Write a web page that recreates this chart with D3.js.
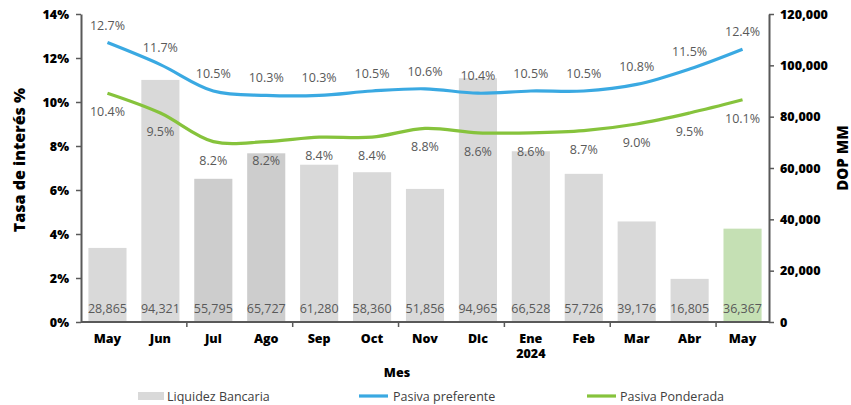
<!DOCTYPE html>
<html>
<head>
<meta charset="utf-8">
<script src="https://cdn.jsdelivr.net/npm/d3@7"></script>
<style>
  body { margin: 0; background: #fff; }
  svg text { font-family: "Open Sans", "Noto Sans", sans-serif; }
</style>
</head>
<body>
<script>
// Data
const months = ["May", "Jun", "Jul", "Ago", "Sep", "Oct", "Nov", "Dic", "Ene", "Feb", "Mar", "Abr", "May2"];
const monthLabels = ["May", "Jun", "Jul", "Ago", "Sep", "Oct", "Nov", "Dic", "Ene\n2024", "Feb", "Mar", "Abr", "May"];
const liquidez = [28865, 94321, 55795, 65727, 61280, 58360, 51856, 94965, 66528, 57726, 39176, 16805, 36367];
const pasivaPreferente = [12.7, 11.7, 10.5, 10.3, 10.3, 10.5, 10.6, 10.4, 10.5, 10.5, 10.8, 11.5, 12.4];
const pasivaPonderada = [10.4, 9.5, 8.2, 8.2, 8.4, 8.4, 8.8, 8.6, 8.6, 8.7, 9.0, 9.5, 10.1];
const leftTicks = [0, 2, 4, 6, 8, 10, 12, 14];
const rightTicks = [0, 20000, 40000, 60000, 80000, 100000, 120000];

const width = 851, height = 405;
const margin = {top: 14, right: 82, bottom: 83, left: 81};
const innerW = width - margin.left - margin.right;
const innerH = height - margin.top - margin.bottom;

const svg = d3.select("body").append("svg")
    .attr("width", width)
    .attr("height", height);

const g = svg.append("g")
    .attr("transform", "translate(" + margin.left + "," + margin.top + ")");

const x = d3.scaleBand().domain(months).range([0, innerW]).paddingInner(0.28).paddingOuter(0.14);
const yL = d3.scaleLinear().domain([0, 14]).range([innerH, 0]);
const yR = d3.scaleLinear().domain([0, 120000]).range([innerH, 0]);

const barColor = (d, i) => i === 12 ? "#c5e0b4" : (i === 2 || i === 3 ? "#cdcdcd" : "#d9d9d9");

// Bars
g.selectAll("rect.bar")
    .data(liquidez)
    .enter().append("rect")
    .attr("class", "bar")
    .attr("x", (d, i) => x(months[i]))
    .attr("width", x.bandwidth())
    .attr("y", d => yR(d))
    .attr("height", d => innerH - yR(d))
    .attr("fill", barColor);

g.selectAll("text.barlabel")
    .data(liquidez)
    .enter().append("text")
    .attr("class", "barlabel")
    .attr("x", (d, i) => x(months[i]) + x.bandwidth() / 2)
    .attr("y", innerH - 9)
    .attr("text-anchor", "middle")
    .attr("fill", "#595959")
    .style("font-size", "12.5px")
    .text(d => d3.format(",")(d));

// Lines (smoothed like the source)
const line = d3.line()
    .x((d, i) => x(months[i]) + x.bandwidth() / 2)
    .y(d => yL(d))
    .curve(d3.curveCatmullRom.alpha(0.5));

g.append("path").datum(pasivaPreferente)
    .attr("fill", "none").attr("stroke", "#3aa9e2").attr("stroke-width", 3.2)
    .attr("d", line);
g.append("path").datum(pasivaPonderada)
    .attr("fill", "none").attr("stroke", "#86c33c").attr("stroke-width", 3.2)
    .attr("d", line);

g.selectAll("text.prefLabel")
    .data(pasivaPreferente)
    .enter().append("text")
    .attr("x", (d, i) => x(months[i]) + x.bandwidth() / 2)
    .attr("y", d => yL(d) - 13)
    .attr("text-anchor", "middle")
    .attr("fill", "#595959")
    .style("font-size", "12.5px")
    .text(d => d.toFixed(1) + "%");

g.selectAll("text.pondLabel")
    .data(pasivaPonderada)
    .enter().append("text")
    .attr("x", (d, i) => x(months[i]) + x.bandwidth() / 2)
    .attr("y", d => yL(d) + 23)
    .attr("text-anchor", "middle")
    .attr("fill", "#595959")
    .style("font-size", "12.5px")
    .text(d => d.toFixed(1) + "%");

// Axes
const axisColor = "#595959";
const leftAxis = g.append("g")
    .call(d3.axisLeft(yL).tickValues(leftTicks).tickFormat(d => d + "%").tickSize(5).tickSizeOuter(0));
const rightAxis = g.append("g")
    .attr("transform", "translate(" + innerW + ",0)")
    .call(d3.axisRight(yR).tickValues(rightTicks).tickFormat(d3.format(",")).tickSize(5).tickSizeOuter(0));

[leftAxis, rightAxis].forEach(a => {
    a.select(".domain").attr("stroke", axisColor).attr("stroke-width", 2);
    a.selectAll(".tick line").attr("stroke", axisColor).attr("stroke-width", 1.5);
    a.selectAll(".tick text").attr("fill", "#000")
        .style("font-size", "12.5px").style("font-weight", "800");
});
leftAxis.selectAll(".tick text").attr("x", -12);
rightAxis.selectAll(".tick text").attr("x", 11);

// Bottom axis
const bottom = g.append("g").attr("transform", "translate(0," + innerH + ")");
bottom.append("line").attr("x1", 0).attr("x2", innerW)
    .attr("stroke", axisColor).attr("stroke-width", 2);
const step = x.step();
const boundaries = d3.range(2, 13, 2).map(k => x(months[0]) - x.paddingInner() * step / 2 + k * step);
bottom.selectAll("line.tick")
    .data(boundaries)
    .enter().append("line")
    .attr("x1", d => d).attr("x2", d => d)
    .attr("y1", 0).attr("y2", 5)
    .attr("stroke", axisColor).attr("stroke-width", 1.5);

const xl = bottom.selectAll("text.xlabel")
    .data(monthLabels)
    .enter().append("text")
    .attr("x", (d, i) => x(months[i]) + x.bandwidth() / 2)
    .attr("y", 21)
    .attr("text-anchor", "middle")
    .attr("fill", "#000")
    .style("font-size", "12.5px")
    .style("font-weight", "800");
xl.each(function (d) {
    const parts = d.split("\n");
    const t = d3.select(this);
    parts.forEach((p, j) => t.append("tspan")
        .attr("x", t.attr("x")).attr("dy", j === 0 ? 0 : 15).text(p));
});

// Axis titles
svg.append("text")
    .attr("transform", "translate(25,160) rotate(-90)")
    .attr("text-anchor", "middle")
    .style("font-size", "16px").style("font-weight", "800")
    .text("Tasa de interés %");
svg.append("text")
    .attr("transform", "translate(848,158) rotate(-90)")
    .attr("text-anchor", "middle")
    .style("font-size", "15px").style("font-weight", "800")
    .text("DOP MM");
svg.append("text")
    .attr("x", 397).attr("y", 377)
    .attr("text-anchor", "middle")
    .style("font-size", "12.5px").style("font-weight", "800")
    .text("Mes");

// Legend
const legend = svg.append("g").attr("transform", "translate(0,397)");
legend.append("rect").attr("x", 138).attr("y", -5).attr("width", 26).attr("height", 8).attr("fill", "#d9d9d9");
legend.append("text").attr("x", 167).attr("y", 4).text("Liquidez Bancaria");
legend.append("line").attr("x1", 359).attr("x2", 388).attr("y1", -1).attr("y2", -1)
    .attr("stroke", "#3aa9e2").attr("stroke-width", 3.2);
legend.append("text").attr("x", 393).attr("y", 4).text("Pasiva preferente");
legend.append("line").attr("x1", 587).attr("x2", 616).attr("y1", -1).attr("y2", -1)
    .attr("stroke", "#86c33c").attr("stroke-width", 3.2);
legend.append("text").attr("x", 620).attr("y", 4).text("Pasiva Ponderada");
legend.selectAll("text").attr("fill", "#404040").style("font-size", "12.5px");
</script>
</body>
</html>
